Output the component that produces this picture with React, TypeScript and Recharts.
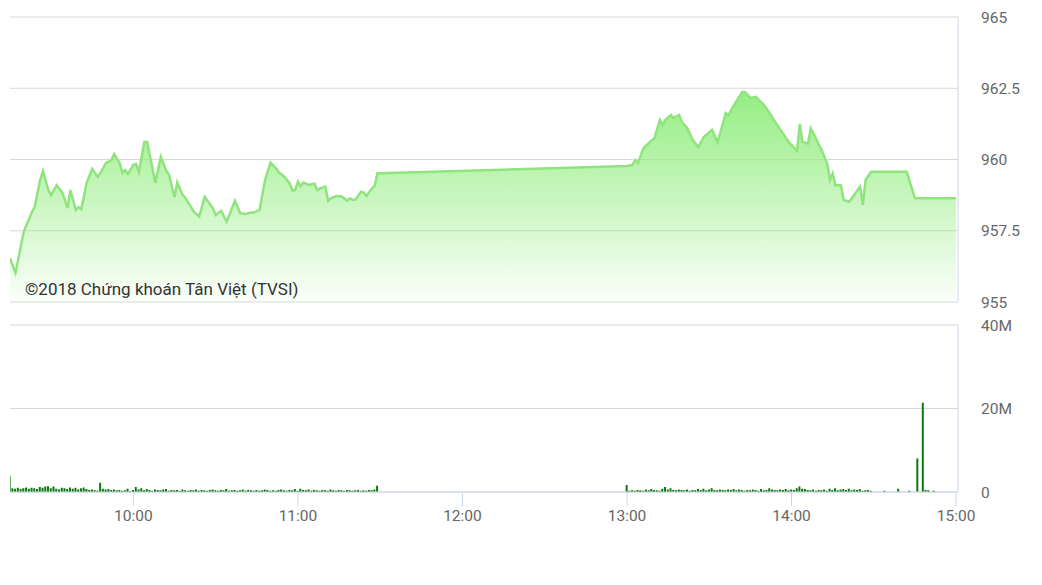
import React from 'react';
import { AreaChart, Area, BarChart, Bar, XAxis, YAxis, CartesianGrid } from 'recharts';

// index price, intraday (time, value)
const priceTimes = [
  '09:15', '09:17', '09:20', '09:23', '09:24', '09:26', '09:27', '09:29', '09:30', '09:32',
  '09:34', '09:36', '09:37', '09:39', '09:40', '09:41', '09:43', '09:45', '09:47', '09:48',
  '09:50', '09:52', '09:53', '09:55', '09:56', '09:57', '09:58', '10:00', '10:01', '10:02',
  '10:04', '10:05', '10:08', '10:10', '10:12', '10:13', '10:15', '10:16', '10:18', '10:19',
  '10:21', '10:22', '10:24', '10:26', '10:29', '10:30', '10:32', '10:34', '10:35', '10:37',
  '10:39', '10:41', '10:43', '10:44', '10:46', '10:48', '10:50', '10:52', '10:53', '10:55',
  '10:57', '10:58', '10:59', '11:00', '11:01', '11:02', '11:04', '11:06', '11:07', '11:09',
  '11:10', '11:11', '11:12', '11:14', '11:16', '11:18', '11:19', '11:20', '11:21', '11:23',
  '11:24', '11:25', '11:27', '11:28', '11:29', '11:30',
  '13:00', '13:01', '13:02', '13:03', '13:04', '13:06', '13:08', '13:10', '13:12', '13:13',
  '13:14', '13:16', '13:17', '13:19', '13:20', '13:22', '13:24', '13:26', '13:28', '13:31',
  '13:33', '13:34', '13:36', '13:37', '13:39', '13:42', '13:43', '13:45', '13:47', '13:50',
  '13:52', '13:54', '13:56', '13:59', '14:02', '14:03', '14:04', '14:06', '14:07', '14:08',
  '14:10', '14:11', '14:13', '14:14', '14:15', '14:16', '14:18', '14:19', '14:21', '14:22',
  '14:25', '14:26', '14:27', '14:29', '14:42', '14:45', '15:00',
];
const priceValues = [
  956.54, 956.02, 957.46, 958.16, 958.33, 959.28, 959.6, 958.93, 958.75, 959.1,
  958.86, 958.3, 958.93, 958.23, 958.33, 958.26, 959.2, 959.67, 959.39, 959.53,
  959.88, 959.98, 960.19, 959.88, 959.53, 959.63, 959.49, 959.81, 959.84, 959.56,
  960.61, 960.61, 959.18, 960.09, 959.6, 959.46, 958.68, 959.2, 958.75, 958.65,
  958.34, 958.17, 958.0, 958.69, 958.29, 958.05, 958.2, 957.82, 958.05, 958.55,
  958.11, 958.09, 958.14, 958.14, 958.23, 959.28, 959.89, 959.69, 959.55, 959.4,
  959.16, 958.91, 958.93, 959.22, 959.07, 959.19, 959.11, 959.16, 958.93, 959.02,
  959.05, 958.55, 958.64, 958.72, 958.7, 958.55, 958.64, 958.58, 958.6, 958.87,
  958.85, 958.72, 958.99, 959.07, 959.52, 959.52,
  959.77, 959.79, 959.81, 959.98, 959.88, 960.4, 960.58, 960.75, 961.39, 961.21,
  961.39, 961.56, 961.46, 961.56, 961.32, 961.1, 960.68, 960.44, 960.79, 961.04,
  960.61, 960.93, 961.63, 961.56, 961.91, 962.37, 962.37, 962.16, 962.2, 961.91,
  961.63, 961.32, 961.04, 960.61, 960.3, 961.25, 960.62, 960.56, 961.09, 960.92,
  960.51, 960.33, 959.86, 959.28, 959.51, 959.1, 959.1, 958.58, 958.52, 958.64,
  959.05, 958.4, 959.28, 959.57, 959.57, 958.64, 958.64,
];

// volume in millions, one bar per minute from 09:15
const morningStart = '09:15';
const morningVolume = [
  3.9, 0.9, 0.8, 1.0, 0.7, 0.9, 1.1, 0.8, 1.0, 0.9,
  0.7, 1.2, 1.0, 1.3, 1.4, 0.9, 1.3, 0.8, 0.6, 1.0,
  0.9, 0.7, 1.1, 0.8, 1.0, 0.6, 0.9, 1.1, 0.7, 0.5,
  0.6, 0.4, 0.3, 2.2, 0.8, 0.6, 0.7, 0.5, 0.6, 0.4,
  0.5, 0.3, 0.4, 0.8, 0.2, 0.5, 1.2, 0.6, 0.9, 0.4,
  0.7, 0.5, 0.3, 0.6, 0.5, 0.4, 0.6, 0.7, 0.3, 0.5,
  0.4, 0.5, 0.3, 0.6, 0.4, 0.3, 0.5, 0.4, 0.6, 0.3,
  0.5, 0.4, 0.3, 0.5, 0.6, 0.4, 0.3, 0.5, 0.4, 0.7,
  0.3, 0.4, 0.5, 0.3, 0.4, 0.6, 0.3, 0.5, 0.4, 0.3,
  0.5, 0.3, 0.4, 0.6, 0.5, 0.3, 0.4, 0.3, 0.5, 0.6,
  0.4, 0.3, 0.5, 0.4, 0.7, 0.3, 0.8, 0.5, 0.4, 0.6,
  0.3, 0.5, 0.4, 0.3, 0.5, 0.4, 0.3, 0.6, 0.4, 0.3,
  0.5, 0.4, 0.3, 0.5, 0.4, 0.3, 0.4, 0.5, 0.3, 0.4,
  0.3, 0.5, 0.4, 0.6, 1.5,
];
// one bar per minute from 13:00
const afternoonStart = '13:00';
const afternoonVolume = [
  1.7, 0.3, 0.4, 0.3, 0.5, 0.4, 0.3, 0.6, 0.4, 0.7,
  0.5, 0.4, 0.3, 0.8, 1.2, 0.6, 0.9, 0.5, 0.4, 0.6,
  0.5, 0.4, 0.6, 0.3, 0.5, 0.4, 0.7, 0.5, 0.8, 0.4,
  0.6, 0.9, 0.5, 0.4, 0.6, 0.5, 0.4, 0.6, 0.5, 0.7,
  0.4, 0.6, 0.5, 0.3, 0.5, 0.4, 0.6, 0.5, 0.3, 0.7,
  0.4, 0.5, 0.9, 0.6, 0.5, 0.4, 0.6, 0.5, 0.7, 0.4,
  0.6, 0.5, 0.9, 1.3, 0.8, 0.7, 0.5, 0.4, 0.6, 0.3,
  0.5, 0.4, 0.6, 0.3, 0.8, 0.5, 0.9, 0.4, 0.6, 0.7,
  0.5, 0.8, 0.4, 0.6, 0.5, 0.7, 0.3, 0.4, 0.5, 0.3,
];
const lateTimes = ['14:34', '14:39', '14:43', '14:46', '14:48', '14:49', '14:50', '14:52'];
const lateVolume = [0.3, 0.8, 0.3, 8.0, 21.4, 0.5, 0.4, 0.3];

const xTickLabels = ['10:00', '11:00', '12:00', '13:00', '14:00', '15:00'];
const priceTicks = [955, 957.5, 960, 962.5, 965];
const volumeTicks = [0, 20, 40];

const toMin = (t: string) => {
  const [h, m] = t.split(':').map(Number);
  return h * 60 + m;
};
const fmtTime = (v: number) => `${Math.floor(v / 60)}:${String(v % 60).padStart(2, '0')}`;

const priceData = priceTimes.map((t, i) => ({ t: toMin(t), price: priceValues[i] }));
const volumeData = [
  ...morningVolume.map((v, i) => ({ t: toMin(morningStart) + i, vol: v })),
  ...afternoonVolume.map((v, i) => ({ t: toMin(afternoonStart) + i, vol: v })),
  ...lateTimes.map((t, i) => ({ t: toMin(t), vol: lateVolume[i] })),
];

const domainX: [number, number] = [555, 900.7];
const tickStyle = { fill: '#666', fontSize: 15.5, fontFamily: 'Roboto' };
const axisColor = '#ccd6eb';
const gridColor = '#d8d8d8';

export default function App() {
  return (
    <div style={{ position: 'absolute', left: 0, top: 0, width: 1042, height: 585, background: '#fff' }}>
      <div style={{ position: 'absolute', left: 0, top: 0 }}>
        <AreaChart width={1042} height={315} data={priceData} margin={{ top: 17, right: 0, left: 10, bottom: 13 }}>
          <defs>
            <linearGradient id="priceFill" x1="0" y1="0" x2="0" y2="1">
              <stop offset="0%" stopColor="#90ed7d" stopOpacity={0.95} />
              <stop offset="100%" stopColor="#90ed7d" stopOpacity={0.04} />
            </linearGradient>
          </defs>
          <CartesianGrid horizontal vertical={false} stroke={gridColor} />
          <XAxis dataKey="t" type="number" domain={domainX} allowDataOverflow hide />
          <YAxis
            orientation="right"
            width={84}
            domain={[955, 965]}
            ticks={priceTicks}
            tick={tickStyle}
            tickLine={false}
            tickSize={0}
            tickMargin={23}
            axisLine={{ stroke: axisColor }}
          />
          <Area
            type="linear"
            dataKey="price"
            stroke="#90e47e"
            strokeWidth={2.5}
            fill="url(#priceFill)"
            fillOpacity={1}
            isAnimationActive={false}
            dot={false}
            activeDot={false}
          />
        </AreaChart>
      </div>
      <div
        style={{
          position: 'absolute',
          left: 25,
          top: 279,
          fontFamily: 'Roboto',
          fontSize: 17,
          lineHeight: '20px',
          color: '#333',
          whiteSpace: 'nowrap',
        }}
      >
        ©2018 Chứng khoán Tân Việt (TVSI)
      </div>
      <div style={{ position: 'absolute', left: 0, top: 315 }}>
        <BarChart width={1042} height={240} data={volumeData} margin={{ top: 10, right: 0, left: 10, bottom: 23 }}>
          <CartesianGrid horizontal vertical={false} stroke={gridColor} />
          <XAxis
            dataKey="t"
            type="number"
            domain={domainX}
            allowDataOverflow
            ticks={xTickLabels.map(toMin)}
            tickFormatter={fmtTime}
            tick={tickStyle}
            tickSize={14}
            tickMargin={4}
            tickLine={{ stroke: axisColor }}
            axisLine={{ stroke: axisColor }}
            height={40}
          />
          <YAxis
            orientation="right"
            width={84}
            domain={[0, 40]}
            ticks={volumeTicks}
            tickFormatter={(v: number) => (v === 0 ? '0' : `${v}M`)}
            tick={tickStyle}
            tickLine={false}
            tickSize={0}
            tickMargin={23}
            axisLine={{ stroke: axisColor }}
          />
          <Bar dataKey="vol" fill="#0a7a0a" barSize={2} isAnimationActive={false} />
        </BarChart>
      </div>
    </div>
  );
}
